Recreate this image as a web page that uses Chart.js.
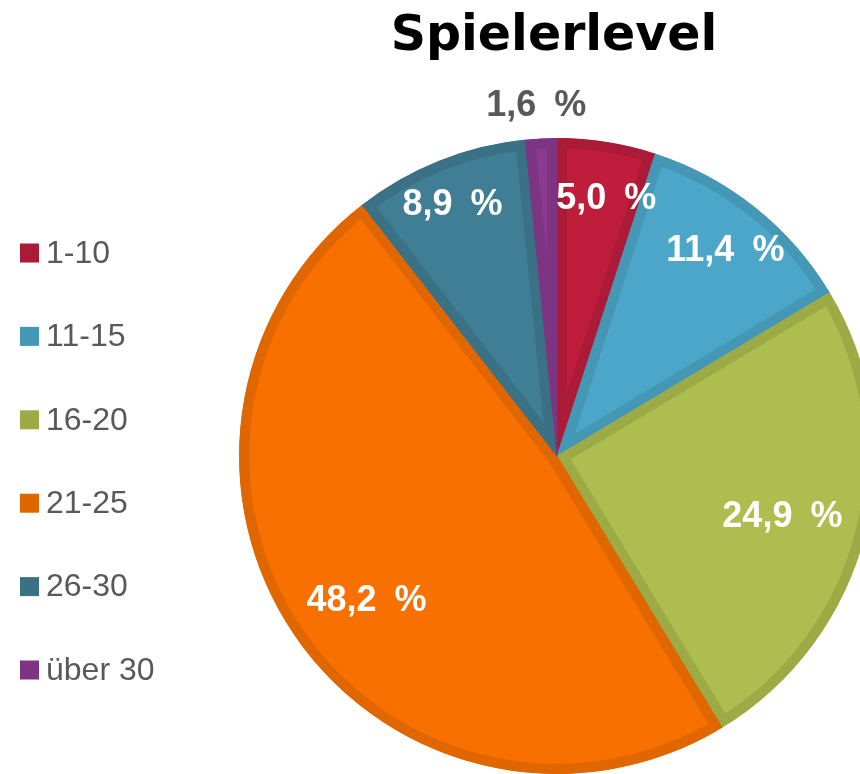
<!DOCTYPE html>
<html>
<head>
<meta charset="utf-8">
<script src="https://cdn.jsdelivr.net/npm/chart.js@4"></script>
<style>
  html, body { margin: 0; padding: 0; background: #ffffff; }
  #wrap { width: 860px; height: 774px; position: relative; }
</style>
</head>
<body>
<div id="wrap"><canvas id="pieChart" width="860" height="774"></canvas></div>
<script>
// Data
const categories = ['1-10', '11-15', '16-20', '21-25', '26-30', 'über 30'];
const shares = [5.0, 11.4, 24.9, 48.2, 8.9, 1.6];
const chartTitle = 'Spielerlevel';

// Colours
const fillColors = ['#be1d3b', '#4ba6c9', '#adbd4f', '#f87000', '#3f7e94', '#8b3b8f'];
const edgeColors = ['#ab1a37', '#4597b6', '#9dab47', '#e06700', '#3a7185', '#7d3482'];

// label placement: fraction of the radius plus a small nudge, outside label is grey
const labelRadius = [0.83, 0.84, 0.73, 0.75, 0.86, 1.11];
const labelNudgeX = [8, 2, 0, 6, -3, -3];
const labelNudgeY = [4, 4, 5, 10, 3, 3];
const labelColors = ['#ffffff', '#ffffff', '#ffffff', '#ffffff', '#ffffff', '#595959'];

function fmt(v) {
  return v.toFixed(1).replace('.', ',') + '\u2002%';
}

const overlay = {
  id: 'overlay',
  afterDraw(chart) {
    const ctx = chart.ctx;
    ctx.save();

    // title
    ctx.fillStyle = '#000000';
    ctx.font = 'bold 49px "DejaVu Sans", Verdana, sans-serif';
    ctx.textAlign = 'center';
    ctx.textBaseline = 'alphabetic';
    ctx.fillText(chartTitle, 554, 50);

    // legend
    ctx.font = '32px "Liberation Sans", Arial, sans-serif';
    ctx.textAlign = 'left';
    ctx.textBaseline = 'middle';
    categories.forEach((cat, i) => {
      const y = 253 + i * 83.4;
      ctx.fillStyle = edgeColors[i];
      ctx.fillRect(20, y - 9.5, 19, 19);
      ctx.fillStyle = '#595959';
      ctx.fillText(cat, 46, y + 1);
    });

    // value labels
    const arcs = chart.getDatasetMeta(0).data;
    ctx.font = 'bold 36px "Liberation Sans", Arial, sans-serif';
    ctx.textAlign = 'center';
    arcs.forEach((arc, i) => {
      const p = arc.getProps(['x', 'y', 'startAngle', 'endAngle', 'outerRadius'], true);
      const mid = (p.startAngle + p.endAngle) / 2;
      const r = p.outerRadius * labelRadius[i];
      ctx.fillStyle = labelColors[i];
      ctx.fillText(fmt(shares[i]),
        p.x + Math.cos(mid) * r + labelNudgeX[i],
        p.y + Math.sin(mid) * r + labelNudgeY[i]);
    });

    ctx.restore();
  }
};

const ctx = document.getElementById('pieChart').getContext('2d');
const pieChart = new Chart(ctx, {
  type: 'pie',
  data: {
    labels: categories,
    datasets: [{
      data: shares,
      backgroundColor: fillColors,
      borderColor: edgeColors,
      borderWidth: 10,
      borderAlign: 'inner',
      clip: false
    }]
  },
  options: {
    responsive: false,
    animation: false,
    radius: 318,
    layout: { padding: { left: 300, right: 46, top: 140, bottom: 2 } },
    plugins: {
      legend: { display: false },
      title: { display: false },
      tooltip: { enabled: false }
    }
  },
  plugins: [overlay]
});
</script>
</body>
</html>
